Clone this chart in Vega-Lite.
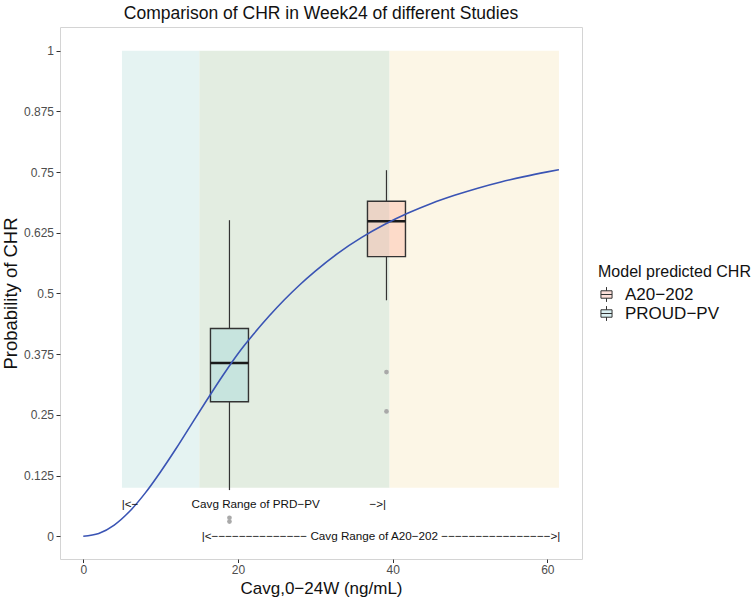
{
  "$schema": "https://vega.github.io/schema/vega-lite/v6.json",
  "width": 522,
  "height": 532,
  "autosize": {"type": "none"},
  "padding": {"left": 60, "top": 27, "right": 172, "bottom": 43},
  "title": {"text": "Comparison of CHR in Week24 of different Studies", "fontSize": 17.5, "fontWeight": "normal", "color": "#111111", "anchor": "middle", "offset": 5, "font": "Liberation Sans"},
  "config": {
    "font": "Liberation Sans",
    "view": {"stroke": "#d4d4d4", "strokeWidth": 1},
    "axis": {"grid": false, "domain": false, "tickColor": "#333333", "tickWidth": 1, "labelColor": "#4d4d4d", "labelFontSize": 12, "titleColor": "#111111", "titleFontWeight": "normal", "labelFont": "Liberation Sans", "titleFont": "Liberation Sans"}
  },
  "datasets": {
    "zones": [
      {"zone": "a", "x": 5.0, "x2": 15.0, "y": 0.1, "y2": 1.0},
      {"zone": "b", "x": 15.0, "x2": 39.6, "y": 0.1, "y2": 1.0},
      {"zone": "c", "x": 39.6, "x2": 61.5, "y": 0.1, "y2": 1.0}
    ],
    "curve": [
      {"x": 0, "y": 0},
      {"x": 2, "y": 0.0056},
      {"x": 4, "y": 0.0229},
      {"x": 6, "y": 0.0513},
      {"x": 8, "y": 0.0887},
      {"x": 10, "y": 0.1328},
      {"x": 12, "y": 0.1806},
      {"x": 14, "y": 0.2310},
      {"x": 16, "y": 0.2810},
      {"x": 18, "y": 0.3300},
      {"x": 20, "y": 0.3760},
      {"x": 22, "y": 0.4160},
      {"x": 24, "y": 0.4530},
      {"x": 26, "y": 0.4870},
      {"x": 28, "y": 0.5180},
      {"x": 30, "y": 0.5460},
      {"x": 33, "y": 0.5837},
      {"x": 36, "y": 0.6155},
      {"x": 39, "y": 0.6425},
      {"x": 42, "y": 0.6656},
      {"x": 45, "y": 0.6854},
      {"x": 48, "y": 0.7022},
      {"x": 51, "y": 0.7170},
      {"x": 54, "y": 0.7297},
      {"x": 57, "y": 0.7408},
      {"x": 60, "y": 0.7505},
      {"x": 61.5, "y": 0.7550}
    ],
    "boxes": [
      {"study": "A20−202", "x": 39.2, "lo": 0.486, "q1": 0.576, "med": 0.649, "q3": 0.690, "hi": 0.754},
      {"study": "PROUD−PV", "x": 18.9, "lo": 0.095, "q1": 0.277, "med": 0.357, "q3": 0.428, "hi": 0.651}
    ],
    "outliers": [
      {"study": "A20−202", "x": 39.2, "y": 0.338},
      {"study": "A20−202", "x": 39.2, "y": 0.257},
      {"study": "PROUD−PV", "x": 18.9, "y": 0.038},
      {"study": "PROUD−PV", "x": 18.9, "y": 0.030}
    ]
  },
  "layer": [
    {
      "data": {"name": "zones"},
      "mark": {"type": "rect"},
      "encoding": {
        "x": {"field": "x", "type": "quantitative", "scale": {"domain": [-3.01, 64.48], "nice": false, "zero": false, "padding": 0}, "axis": {"values": [0, 20, 40, 60], "title": "Cavg,0−24W (ng/mL)", "titleFontSize": 17, "titlePadding": 5, "labelPadding": 2, "tickSize": 3.5}},
        "x2": {"field": "x2"},
        "y": {"field": "y", "type": "quantitative", "scale": {"domain": [-0.047, 1.049], "nice": false, "zero": false, "padding": 0}, "axis": {"values": [0, 0.125, 0.25, 0.375, 0.5, 0.625, 0.75, 0.875, 1], "format": ".3~f", "title": "Probability of CHR", "titleFontSize": 18.5, "titlePadding": 3, "labelPadding": 2.5, "tickSize": 4}},
        "y2": {"field": "y2"},
        "color": {"field": "zone", "type": "nominal", "scale": {"domain": ["a", "b", "c"], "range": ["#e5f3f2", "#e3ede1", "#fcf6e6"]}, "legend": null}
      }
    },
    {
      "data": {"name": "boxes"},
      "mark": {"type": "rule", "color": "#333333", "strokeWidth": 1.2},
      "encoding": {
        "x": {"field": "x", "type": "quantitative", "scale": {"domain": [-3.01, 64.48], "nice": false, "zero": false, "padding": 0}, "axis": {"values": [0, 20, 40, 60], "title": "Cavg,0−24W (ng/mL)", "titleFontSize": 17, "titlePadding": 5, "labelPadding": 2, "tickSize": 3.5}},
        "y": {"field": "lo", "type": "quantitative", "scale": {"domain": [-0.047, 1.049], "nice": false, "zero": false, "padding": 0}, "axis": {"values": [0, 0.125, 0.25, 0.375, 0.5, 0.625, 0.75, 0.875, 1], "format": ".3~f", "title": "Probability of CHR", "titleFontSize": 18.5, "titlePadding": 3, "labelPadding": 2.5, "tickSize": 4}},
        "y2": {"field": "q1"}
      }
    },
    {
      "data": {"name": "boxes"},
      "mark": {"type": "rule", "color": "#333333", "strokeWidth": 1.2},
      "encoding": {
        "x": {"field": "x", "type": "quantitative", "scale": {"domain": [-3.01, 64.48], "nice": false, "zero": false, "padding": 0}, "axis": {"values": [0, 20, 40, 60], "title": "Cavg,0−24W (ng/mL)", "titleFontSize": 17, "titlePadding": 5, "labelPadding": 2, "tickSize": 3.5}},
        "y": {"field": "q3", "type": "quantitative", "scale": {"domain": [-0.047, 1.049], "nice": false, "zero": false, "padding": 0}, "axis": {"values": [0, 0.125, 0.25, 0.375, 0.5, 0.625, 0.75, 0.875, 1], "format": ".3~f", "title": "Probability of CHR", "titleFontSize": 18.5, "titlePadding": 3, "labelPadding": 2.5, "tickSize": 4}},
        "y2": {"field": "hi"}
      }
    },
    {
      "data": {"name": "boxes"},
      "mark": {"type": "bar", "size": 38, "fillOpacity": 0.3, "stroke": "#333333", "strokeWidth": 1.4},
      "encoding": {
        "x": {"field": "x", "type": "quantitative", "scale": {"domain": [-3.01, 64.48], "nice": false, "zero": false, "padding": 0}, "axis": {"values": [0, 20, 40, 60], "title": "Cavg,0−24W (ng/mL)", "titleFontSize": 17, "titlePadding": 5, "labelPadding": 2, "tickSize": 3.5}},
        "y": {"field": "q1", "type": "quantitative", "scale": {"domain": [-0.047, 1.049], "nice": false, "zero": false, "padding": 0}, "axis": {"values": [0, 0.125, 0.25, 0.375, 0.5, 0.625, 0.75, 0.875, 1], "format": ".3~f", "title": "Probability of CHR", "titleFontSize": 18.5, "titlePadding": 3, "labelPadding": 2.5, "tickSize": 4}},
        "y2": {"field": "q3"},
        "fill": {
          "field": "study", "type": "nominal",
          "scale": {"domain": ["A20−202", "PROUD−PV"], "range": ["#ff9d87", "#89d2d7"]},
          "legend": {
            "title": "Model predicted CHR", "orient": "none", "legendX": 538, "legendY": 237,
            "titleFontSize": 16, "titleFontWeight": "normal", "titleColor": "#111111", "titleFont": "Liberation Sans",
            "labelFontSize": 17, "labelColor": "#111111", "labelFont": "Liberation Sans",
            "symbolType": "M-0.75,-0.5H0.75V0.5H-0.75Z M-0.75,0H0.75 M0,-0.5V-1 M0,0.5V1",
            "symbolSize": 220, "symbolStrokeColor": "#333333", "symbolStrokeWidth": 1,
            "labelOffset": 10, "rowPadding": 0, "titlePadding": 6, "padding": 0,
            "encode": {"symbols": {"update": {"size": {"value": 220}, "fillOpacity": {"value": 0.3}, "stroke": {"value": "#333333"}, "strokeWidth": {"value": 1}}}}
          }
        }
      }
    },
    {
      "data": {"name": "boxes"},
      "mark": {"type": "tick", "orient": "horizontal", "size": 38, "thickness": 2.5, "color": "#1a1a1a", "opacity": 1},
      "encoding": {
        "x": {"field": "x", "type": "quantitative", "scale": {"domain": [-3.01, 64.48], "nice": false, "zero": false, "padding": 0}, "axis": {"values": [0, 20, 40, 60], "title": "Cavg,0−24W (ng/mL)", "titleFontSize": 17, "titlePadding": 5, "labelPadding": 2, "tickSize": 3.5}},
        "y": {"field": "med", "type": "quantitative", "scale": {"domain": [-0.047, 1.049], "nice": false, "zero": false, "padding": 0}, "axis": {"values": [0, 0.125, 0.25, 0.375, 0.5, 0.625, 0.75, 0.875, 1], "format": ".3~f", "title": "Probability of CHR", "titleFontSize": 18.5, "titlePadding": 3, "labelPadding": 2.5, "tickSize": 4}}
      }
    },
    {
      "data": {"name": "outliers"},
      "mark": {"type": "point", "filled": true, "color": "#a9a9a9", "size": 22, "opacity": 1},
      "encoding": {
        "x": {"field": "x", "type": "quantitative", "scale": {"domain": [-3.01, 64.48], "nice": false, "zero": false, "padding": 0}, "axis": {"values": [0, 20, 40, 60], "title": "Cavg,0−24W (ng/mL)", "titleFontSize": 17, "titlePadding": 5, "labelPadding": 2, "tickSize": 3.5}},
        "y": {"field": "y", "type": "quantitative", "scale": {"domain": [-0.047, 1.049], "nice": false, "zero": false, "padding": 0}, "axis": {"values": [0, 0.125, 0.25, 0.375, 0.5, 0.625, 0.75, 0.875, 1], "format": ".3~f", "title": "Probability of CHR", "titleFontSize": 18.5, "titlePadding": 3, "labelPadding": 2.5, "tickSize": 4}}
      }
    },
    {
      "data": {"name": "curve"},
      "mark": {"type": "line", "color": "#3a54b4", "strokeWidth": 1.6, "interpolate": "monotone"},
      "encoding": {
        "x": {"field": "x", "type": "quantitative", "scale": {"domain": [-3.01, 64.48], "nice": false, "zero": false, "padding": 0}, "axis": {"values": [0, 20, 40, 60], "title": "Cavg,0−24W (ng/mL)", "titleFontSize": 17, "titlePadding": 5, "labelPadding": 2, "tickSize": 3.5}},
        "y": {"field": "y", "type": "quantitative", "scale": {"domain": [-0.047, 1.049], "nice": false, "zero": false, "padding": 0}, "axis": {"values": [0, 0.125, 0.25, 0.375, 0.5, 0.625, 0.75, 0.875, 1], "format": ".3~f", "title": "Probability of CHR", "titleFontSize": 18.5, "titlePadding": 3, "labelPadding": 2.5, "tickSize": 4}}
      }
    },
    {
      "data": {"values": [{"x": 4.96, "y": 0.066, "label": "|<−"}]},
      "mark": {"type": "text", "align": "left", "baseline": "middle", "fontSize": 11.7, "color": "#111111", "font": "Liberation Sans"},
      "encoding": {
        "x": {"field": "x", "type": "quantitative", "scale": {"domain": [-3.01, 64.48], "nice": false, "zero": false, "padding": 0}, "axis": {"values": [0, 20, 40, 60], "title": "Cavg,0−24W (ng/mL)", "titleFontSize": 17, "titlePadding": 5, "labelPadding": 2, "tickSize": 3.5}},
        "y": {"field": "y", "type": "quantitative", "scale": {"domain": [-0.047, 1.049], "nice": false, "zero": false, "padding": 0}, "axis": {"values": [0, 0.125, 0.25, 0.375, 0.5, 0.625, 0.75, 0.875, 1], "format": ".3~f", "title": "Probability of CHR", "titleFontSize": 18.5, "titlePadding": 3, "labelPadding": 2.5, "tickSize": 4}},
        "text": {"field": "label"}
      }
    },
    {
      "data": {"values": [{"x": 39.15, "y": 0.066, "label": "−>|"}]},
      "mark": {"type": "text", "align": "right", "baseline": "middle", "fontSize": 11.7, "color": "#111111", "font": "Liberation Sans"},
      "encoding": {
        "x": {"field": "x", "type": "quantitative", "scale": {"domain": [-3.01, 64.48], "nice": false, "zero": false, "padding": 0}, "axis": {"values": [0, 20, 40, 60], "title": "Cavg,0−24W (ng/mL)", "titleFontSize": 17, "titlePadding": 5, "labelPadding": 2, "tickSize": 3.5}},
        "y": {"field": "y", "type": "quantitative", "scale": {"domain": [-0.047, 1.049], "nice": false, "zero": false, "padding": 0}, "axis": {"values": [0, 0.125, 0.25, 0.375, 0.5, 0.625, 0.75, 0.875, 1], "format": ".3~f", "title": "Probability of CHR", "titleFontSize": 18.5, "titlePadding": 3, "labelPadding": 2.5, "tickSize": 4}},
        "text": {"field": "label"}
      }
    },
    {
      "data": {"values": [
        {"x": 22.3, "y": 0.066, "label": "Cavg Range of PRD−PV"},
        {"x": 38.5, "y": 0.0, "label": "|<−−−−−−−−−−−−−− Cavg Range of A20−202 −−−−−−−−−−−−−−−−>|"}
      ]},
      "mark": {"type": "text", "align": "center", "baseline": "middle", "fontSize": 11.7, "color": "#111111", "font": "Liberation Sans"},
      "encoding": {
        "x": {"field": "x", "type": "quantitative", "scale": {"domain": [-3.01, 64.48], "nice": false, "zero": false, "padding": 0}, "axis": {"values": [0, 20, 40, 60], "title": "Cavg,0−24W (ng/mL)", "titleFontSize": 17, "titlePadding": 5, "labelPadding": 2, "tickSize": 3.5}},
        "y": {"field": "y", "type": "quantitative", "scale": {"domain": [-0.047, 1.049], "nice": false, "zero": false, "padding": 0}, "axis": {"values": [0, 0.125, 0.25, 0.375, 0.5, 0.625, 0.75, 0.875, 1], "format": ".3~f", "title": "Probability of CHR", "titleFontSize": 18.5, "titlePadding": 3, "labelPadding": 2.5, "tickSize": 4}},
        "text": {"field": "label"}
      }
    }
  ]
}
